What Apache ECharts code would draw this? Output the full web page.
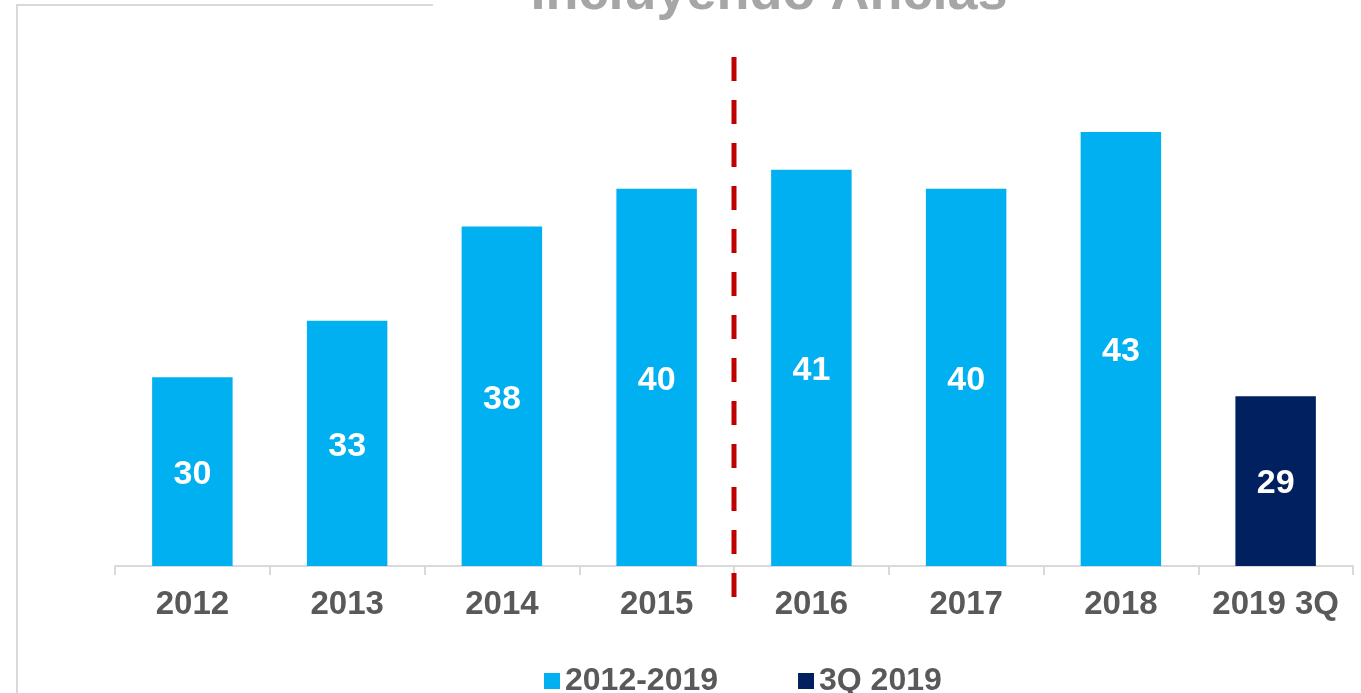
<!DOCTYPE html>
<html>
<head>
<meta charset="utf-8">
<script src="https://cdn.jsdelivr.net/npm/echarts@6/dist/echarts.min.js"></script>
<style>
  html, body { margin: 0; padding: 0; background: #fff; }
  #main { width: 1361px; height: 693px; }
</style>
</head>
<body>
<div id="main"></div>
<script>
const categories = ['2012', '2013', '2014', '2015', '2016', '2017', '2018', '2019 3Q']
const yearly = [30, 33, 38, 40, 41, 40, 43, null]
const quarter = [null, null, null, null, null, null, null, 29]
const seriesNames = ['2012-2019', '3Q 2019']
const titleText = 'Incluyendo Anclas'

const font = 'Arial, "Liberation Sans", sans-serif'
const chart = echarts.init(document.getElementById('main'))

const barLabel = {
  show: true,
  position: 'inside',
  color: '#fff',
  fontWeight: 'bold',
  fontSize: 34,
  fontFamily: font,
  offset: [0, 3]
}

chart.setOption({
  animation: false,
  title: {
    text: titleText,
    left: 764,
    textAlign: 'center',
    top: -38,
    textStyle: { color: '#A6A6A6', fontSize: 54, fontWeight: 'bold', fontFamily: font }
  },
  legend: {
    bottom: -9,
    left: 539,
    itemWidth: 16,
    itemHeight: 16,
    itemGap: 80,
    icon: 'rect',
    textStyle: { color: '#595959', fontSize: 32, fontWeight: 'bold', fontFamily: font }
  },
  grid: { left: 115, right: 8, top: 0, bottom: 127 },
  xAxis: {
    type: 'category',
    data: categories,
    axisLine: { lineStyle: { color: '#D9D9D9', width: 2 } },
    axisTick: { show: true, interval: 0, length: 9, lineStyle: { color: '#D9D9D9', width: 2 } },
    axisLabel: { interval: 0, color: '#595959', fontSize: 33, fontWeight: 'bold', fontFamily: font, margin: 22 }
  },
  yAxis: {
    type: 'value',
    min: 20,
    max: 50,
    show: false,
    splitLine: { show: false }
  },
  series: [
    {
      name: seriesNames[0],
      type: 'bar',
      stack: 'total',
      barWidth: '52%',
      data: yearly,
      itemStyle: { color: '#00B0F0' },
      label: barLabel
    },
    {
      name: seriesNames[1],
      type: 'bar',
      stack: 'total',
      barWidth: '52%',
      data: quarter,
      itemStyle: { color: '#002060' },
      label: barLabel
    }
  ]
})

// dashed divider between 2015 and 2016, frame line at top-left
const x1 = chart.convertToPixel({ xAxisIndex: 0 }, '2015')
const x2 = chart.convertToPixel({ xAxisIndex: 0 }, '2016')
const xMid = (x1 + x2) / 2
chart.setOption({
  graphic: [
    {
      type: 'polyline',
      shape: { points: [[433, 5], [17, 5], [17, 693]] },
      style: { stroke: '#D9D9D9', lineWidth: 2, fill: null },
      z: -1
    },
    {
      type: 'line',
      shape: { x1: xMid, y1: 57, x2: xMid, y2: 614 },
      style: { stroke: '#C00000', lineWidth: 5, lineDash: [24, 19] },
      z: 10
    }
  ]
})

window.addEventListener('resize', () => chart.resize())
</script>
</body>
</html>
